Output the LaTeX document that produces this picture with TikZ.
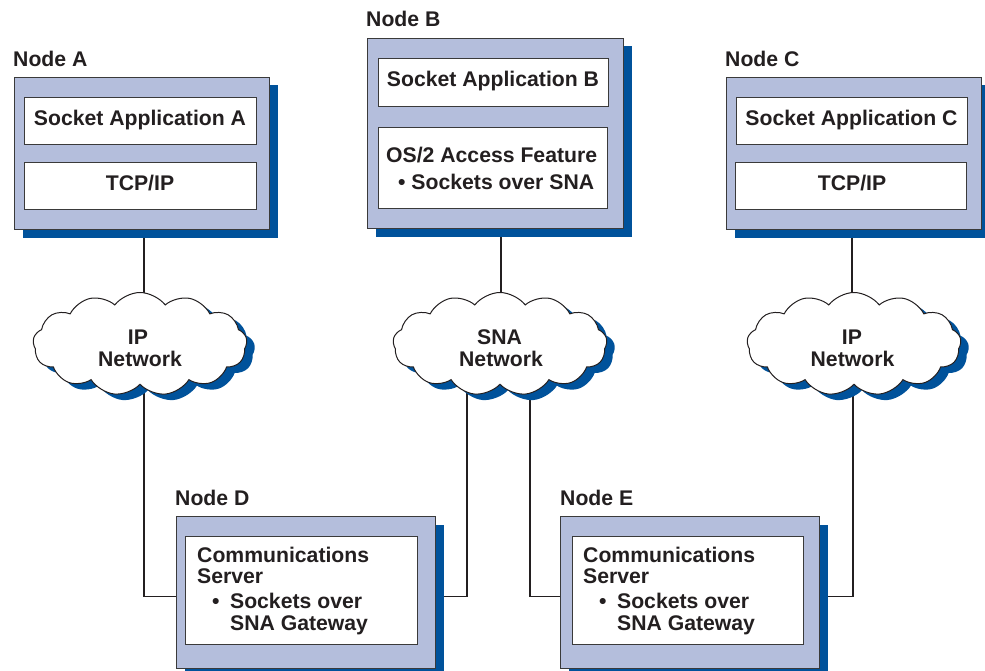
\documentclass[tikz,border=0pt]{standalone}
\usepackage{fontspec}
\setmainfont{Liberation Sans}
\usetikzlibrary{shapes.symbols,shadows,backgrounds}
\definecolor{boxfill}{HTML}{B4BEDC}
\definecolor{shadowblue}{HTML}{00529B}
\definecolor{ink}{HTML}{231F20}
\definecolor{edgegray}{HTML}{3A3A3A}
\begin{document}
\begin{tikzpicture}[x=1pt,y=-1pt,
  every node/.style={font=\fontsize{21.2}{25}\selectfont\bfseries, text=ink, inner sep=0pt},
  outerbox/.style={draw=edgegray, line width=1pt, fill=boxfill, anchor=north west,
    drop shadow={shadow xshift=8pt,shadow yshift=-8pt,fill=shadowblue,opacity=1}},
  innerbox/.style={draw=edgegray, line width=1pt, fill=white, anchor=north west},
  netcloud/.style={cloud, cloud puffs=13, cloud puff arc=105, aspect=2.1, draw=ink, line width=1pt,
    fill=white, minimum width=214pt, minimum height=103pt,
    drop shadow={shadow xshift=8pt,shadow yshift=-6pt,fill=shadowblue,opacity=1}},
  lbl/.style={anchor=base west},
  ctr/.style={anchor=base},
  conn/.style={draw=ink, line width=1.2pt}
]
\useasboundingbox (0,0) rectangle (985,671);

% Node A
\node[outerbox, minimum width=255pt, minimum height=152pt] (A) at (14,77) {};
\node[innerbox, minimum width=232pt, minimum height=47pt] (A1) at (24,97) {};
\node[innerbox, minimum width=232pt, minimum height=47pt] (A2) at (23.5,162) {};
\node[ctr] (tA1) at (140,126) {Socket Application A};
\node[ctr] (tA2) at (140,191) {TCP/IP};
\node[lbl] (lA) at (13,67) {Node A};

% Node B
\node[outerbox, minimum width=256pt, minimum height=190pt] (B) at (367,38) {};
\node[innerbox, minimum width=230pt, minimum height=48pt] (B1) at (378,58) {};
\node[innerbox, minimum width=229pt, minimum height=81pt] (B2) at (378,127) {};
\node[ctr] (tB1) at (493,87) {Socket Application B};
\node[lbl] (tB2) at (386,163) {OS/2 Access Feature};
\node[lbl] (tB3) at (398,190) {\textbullet\ Sockets over SNA};
\node[lbl] (lB) at (366,27) {Node B};

% Node C
\node[outerbox, minimum width=255pt, minimum height=152pt] (C) at (726,77) {};
\node[innerbox, minimum width=231pt, minimum height=47pt] (C1) at (736,97) {};
\node[innerbox, minimum width=231pt, minimum height=47pt] (C2) at (735,162) {};
\node[ctr] (tC1) at (851.5,126) {Socket Application C};
\node[ctr] (tC2) at (852,191) {TCP/IP};
\node[lbl] (lC) at (725,67) {Node C};

% Node D
\node[outerbox, minimum width=259pt, minimum height=152pt] (D) at (176,516) {};
\node[innerbox, minimum width=232pt, minimum height=108pt] (D1) at (185,536) {};
\node[lbl] (tD1) at (197,562) {Communications};
\node[lbl] (tD2) at (197,583) {Server};
\node[lbl] (tD3) at (212,608) {\textbullet\hspace{10.5pt}Sockets over};
\node[lbl] (tD4) at (230,630) {SNA Gateway};
\node[lbl] (lD) at (175,505) {Node D};

% Node E
\node[outerbox, minimum width=259pt, minimum height=152pt] (E) at (560,516) {};
\node[innerbox, minimum width=231pt, minimum height=108pt] (E1) at (572,536) {};
\node[lbl] (tE1) at (583,562) {Communications};
\node[lbl] (tE2) at (583,583) {Server};
\node[lbl] (tE3) at (599,608) {\textbullet\hspace{10.5pt}Sockets over};
\node[lbl] (tE4) at (617,630) {SNA Gateway};
\node[lbl] (lE) at (560,505) {Node E};

% Clouds
\node[netcloud] (cA) at (140,344) {};
\node[netcloud] (cB) at (500,344) {};
\node[netcloud] (cC) at (854,344) {};
\node[ctr] (tcA1) at (138,344) {IP};
\node[ctr] (tcA2) at (140,366) {Network};
\node[ctr] (tcB1) at (499.5,344) {SNA};
\node[ctr] (tcB2) at (501,366) {Network};
\node[ctr] (tcC1) at (852,344) {IP};
\node[ctr] (tcC2) at (852.5,366) {Network};

% connector positions
\coordinate (xA) at (144,0);
\coordinate (xB) at (501,0);
\coordinate (xBl) at (467,0);
\coordinate (xBr) at (530,0);
\coordinate (xC) at (852,0);
\coordinate (xCd) at (853,0);
\coordinate (yDE) at (0,596.5);

\begin{pgfonlayer}{background}
\draw[conn] (A.south -| xA) -- (cA.center -| xA);
\draw[conn] (cA.center -| xA) -- (xA |- yDE) -- (D.west |- yDE);
\draw[conn] (B.south -| xB) -- (cB.center -| xB);
\draw[conn] (cB.center -| xBl) -- (xBl |- yDE) -- (D.east |- yDE);
\draw[conn] (cB.center -| xBr) -- (xBr |- yDE) -- (E.west |- yDE);
\draw[conn] (C.south -| xC) -- (cC.center -| xC);
\draw[conn] (cC.center -| xCd) -- (xCd |- yDE) -- (E.east |- yDE);
\end{pgfonlayer}
\end{tikzpicture}
\end{document}
